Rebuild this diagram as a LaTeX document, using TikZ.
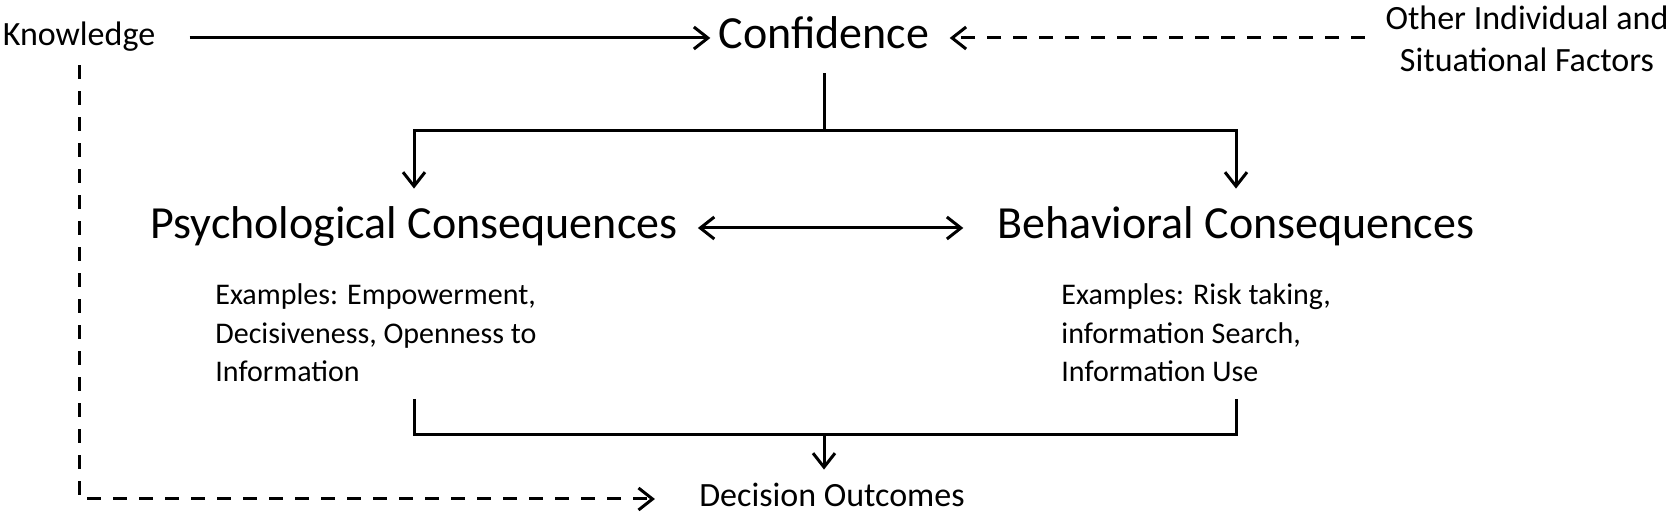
\documentclass[tikz,border=0pt]{standalone}
\usepackage{fontspec}
\setmainfont{Carlito}
\usepackage{tikz}
\usetikzlibrary{positioning,
                calc,
                arrows.meta}

\begin{document}
\begin{tikzpicture}[x=0.5pt,y=-0.5pt]

%--------------------------------------------------
% STYLES
%--------------------------------------------------

\tikzset{
bigterm/.style={
inner sep=0pt,
font=\fontsize{23}{28}\selectfont,
text height=17pt,
text depth=6pt
},
smallterm/.style={
inner sep=0pt,
font=\fontsize{17}{21}\selectfont,
text height=12.5pt,
text depth=4.5pt
},
twoline/.style={
inner sep=0pt,
align=center,
font=\fontsize{17}{21}\selectfont
},
examples/.style={
inner sep=0pt,
align=left,
font=\fontsize{15}{19.3}\selectfont
},
bracket/.style={
line width=1.5pt
},
link/.style={
line width=1.5pt,
-{Straight Barb[length=7pt,width=11pt]}
},
twoway/.style={
line width=1.5pt,
{Straight Barb[length=7pt,width=11pt]}-{Straight Barb[length=7pt,width=11pt]}
},
weaklink/.style={
link,
dash pattern=on 7pt off 6pt
}
}

\useasboundingbox (0,0) rectangle (1676,517);

%--------------------------------------------------
% TOP ROW
%--------------------------------------------------

\node[smallterm] (know) at (79,38)
{Knowledge};

\node[bigterm] (conf) at (824,38)
{Confidence};

\node[twoline] (other) at (1527,39)
{Other Individual and\\Situational Factors};

%--------------------------------------------------
% CONSEQUENCES
%--------------------------------------------------

\node[bigterm] (psych) at (414,228)
{Psychological Consequences};

\node[bigterm] (behav) at (1236,228)
{Behavioral Consequences};

\node[examples,anchor=west] (psyex) at (215,333)
{Examples: Empowerment,\\Decisiveness, Openness to\\Information};

\node[examples,anchor=west] (behex) at (1061,333)
{Examples: Risk taking,\\information Search,\\Information Use};

%--------------------------------------------------
% OUTCOME
%--------------------------------------------------

\node[smallterm] (outcome) at (832,499)
{Decision Outcomes};

%--------------------------------------------------
% CONNECTORS
%--------------------------------------------------

\coordinate (split) at (824,131);
\coordinate (psyleg) at (414,399);
\coordinate (behleg) at (1236,399);
\coordinate (merge) at (824,435);

\draw[link,shorten <=17pt,shorten >=4pt] (know) -- (conf);
\draw[weaklink,shorten <=10pt,shorten >=10pt] (other.west |- conf) -- (conf);

\draw[bracket,shorten <=6pt] (conf) -- (split);
\draw[link,shorten >=8pt] (split) -| (psych);
\draw[link,shorten >=8pt] (split) -| (behav);

\draw[twoway,shorten <=10pt,shorten >=17pt] (psych) -- (behav);

\draw[bracket] (psyleg) |- (merge) -| (behleg);
\draw[link,shorten >=6pt] (merge) -- (merge |- outcome.north);

\draw[weaklink,shorten <=5pt,shorten >=22pt] (know) |- (outcome);

\end{tikzpicture}
\end{document}
